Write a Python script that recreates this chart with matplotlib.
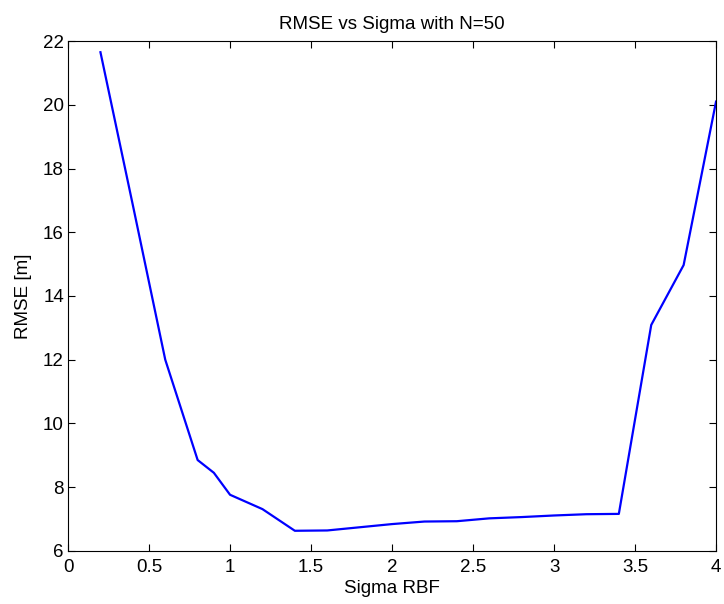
import numpy as np
import matplotlib
matplotlib.use("Agg")
import matplotlib.pyplot as plt

plt.rcParams['font.family'] = ['Liberation Sans', 'DejaVu Sans']

sigma = [0.2, 0.4, 0.6, 0.8, 0.9, 1.0, 1.2, 1.4, 1.6, 1.8, 2.0, 2.2, 2.4, 2.6, 2.8, 3.0, 3.2, 3.4, 3.6, 3.8, 4.0]
rmse = [21.65, 16.85, 12.0, 8.85, 8.45, 7.76, 7.31, 6.63, 6.64, 6.74, 6.84, 6.92, 6.93, 7.02, 7.06, 7.11, 7.15, 7.16, 13.09, 14.97, 20.1]

fs = 13.5

fig = plt.figure(figsize=(7.24, 6.04), dpi=100)
ax = fig.add_axes([0.094, 0.088, 0.895, 0.844])
ax.plot(sigma, rmse, color='blue', linewidth=1.6)

ax.set_xlim(0, 4)
ax.set_ylim(6, 22)
ax.set_xticks(np.arange(0, 4.01, 0.5))
ax.set_xticklabels(['0', '0.5', '1', '1.5', '2', '2.5', '3', '3.5', '4'])
ax.set_yticks(np.arange(6, 23, 2))
ax.tick_params(direction='in', top=True, right=True, labelsize=fs, length=5)
ax.tick_params(axis='x', pad=6)
ax.tick_params(axis='y', pad=3)
for s in ax.spines.values():
    s.set_linewidth(0.8)

ax.set_xlabel('Sigma RBF', fontsize=fs, labelpad=3)
ax.set_ylabel('RMSE [m]', fontsize=fs, labelpad=8)
ax.set_title('RMSE vs Sigma with N=50', fontsize=fs, pad=9)

fig.savefig('out.png', dpi=100)
